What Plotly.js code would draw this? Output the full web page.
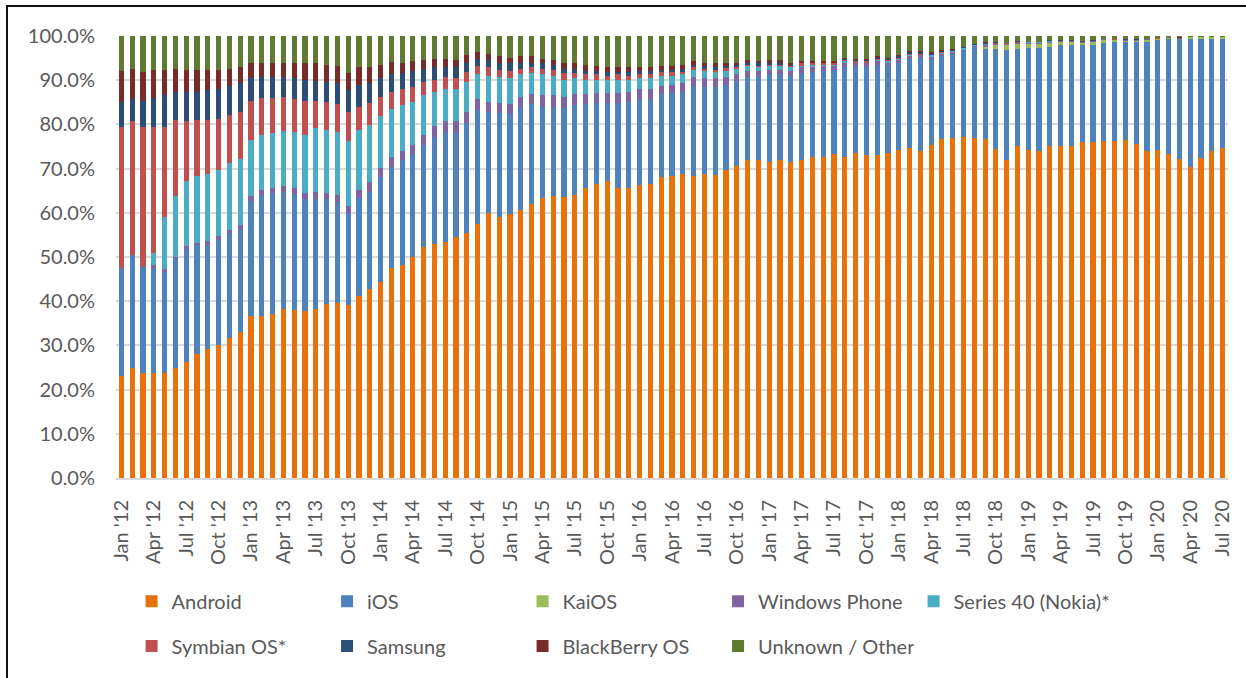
<!DOCTYPE html>
<html>
<head>
<meta charset="utf-8">
<script src="https://cdn.plot.ly/plotly-3.0.1.min.js"></script>
<style>
html,body{margin:0;padding:0;background:#fff;}
#wrap{position:relative;width:1246px;height:678px;overflow:hidden;}
#chart{position:absolute;left:0;top:0;width:1246px;height:678px;}
#frame{position:absolute;left:6px;top:5px;width:1400px;height:900px;border-top:2px solid #111;border-left:2px solid #111;pointer-events:none;}
</style>
</head>
<body>
<div id="wrap"><div id="chart"></div><div id="frame"></div></div>
<script>
const monthNames = ["Jan","Feb","Mar","Apr","May","Jun","Jul","Aug","Sep","Oct","Nov","Dec"];
const yearLabels = ["12","13","14","15","16","17","18","19","20"];
const lastYearMonths = 7;

const android = [
 23.1,24.8,23.7,23.7,23.7,25.0,26.3,28.1,29.2,30.0,31.7,33.1,
 36.6,36.6,37.2,38.3,38.1,37.8,38.3,39.4,39.7,39.2,41.1,42.8,
 44.4,47.5,48.3,50.0,52.2,53.0,53.3,54.6,55.4,57.5,59.9,59.1,
 59.7,60.7,61.9,63.3,63.8,63.5,64.1,65.5,66.6,67.1,65.7,65.7,
 66.3,66.4,68.0,68.3,68.8,68.3,68.8,68.5,69.6,70.7,71.9,71.9,
 71.6,71.9,71.6,71.9,72.7,72.7,73.2,72.7,73.5,73.0,73.0,73.5,
 74.3,74.6,74.0,75.4,76.6,76.9,77.2,76.9,76.6,74.6,72.1,75.1,
 74.3,74.0,75.1,75.1,75.1,76.0,76.0,76.3,76.3,76.6,75.7,74.0,
 74.3,73.2,72.1,70.4,72.4,74.0,74.6];
const ios = [
 24.3,25.6,23.9,23.8,22.8,24.5,25.6,24.6,23.5,23.8,23.7,23.2,
 26.1,27.4,27.2,26.3,25.9,25.3,24.8,23.7,22.8,20.7,22.2,21.8,
 23.6,23.0,23.6,23.2,23.2,24.1,24.9,23.5,25.0,25.7,23.0,23.5,
 22.6,23.1,22.7,20.7,20.2,20.3,20.2,19.1,18.3,17.8,19.2,19.4,
 19.4,19.3,18.8,18.8,18.6,20.5,19.7,20.0,19.4,19.2,18.8,18.8,
 19.7,19.4,19.4,19.7,19.1,19.4,19.2,20.2,19.4,19.9,20.5,20.0,
 19.7,20.3,21.1,19.5,18.8,19.1,19.3,20.7,20.5,22.5,24.8,22.0,
 23.1,23.4,22.5,22.9,22.9,22.0,22.0,22.2,22.4,22.3,23.0,24.7,
 24.8,26.1,27.2,28.9,26.9,25.3,24.7];
const kaios = [
 0,0,0,0,0,0,0,0,0,0,0,0,
 0,0,0,0,0,0,0,0,0,0,0,0,
 0,0,0,0,0,0,0,0,0,0,0,0,
 0,0,0,0,0,0,0,0,0,0,0,0,
 0,0,0,0,0,0,0,0,0,0,0,0,
 0,0,0,0,0,0,0,0,0,0,0,0,
 0,0,0,0,0,0,0,0,0.5,0.9,1.1,1.1,
 1.0,1.0,0.9,0.7,0.7,0.5,0.7,0.7,0.4,0.2,0.3,0.5,
 0.2,0.1,0.1,0.4,0.4,0.4,0.4];
const windowsPhone = [
 0,0,0.4,0.6,0.7,0.5,0.6,0.5,0.9,0.9,0.8,0.9,
 1.1,1.1,1.1,1.4,1.5,1.3,1.5,1.3,1.5,1.7,1.8,2.3,
 2.2,2.3,2.1,2.2,2.2,2.5,2.5,2.6,2.3,2.5,2.2,2.3,
 2.3,2.5,2.2,2.6,2.6,2.5,2.5,2.2,2.2,2.2,2.2,2.3,
 2.2,2.2,1.9,1.9,1.9,1.9,1.9,1.9,1.7,1.4,1.4,1.4,
 1.1,1.1,1.1,1.3,1.1,1.1,0.8,0.9,0.9,0.9,0.8,0.5,
 0.6,0.5,0.5,0.4,0.4,0.3,0.4,0.3,0.4,0.3,0.3,0.3,
 0.2,0.2,0.3,0.2,0.2,0.2,0.2,0.1,0.1,0.1,0.1,0.1,
 0.1,0.2,0.1,0,0,0,0];
const series40 = [
 0,0,0,2.7,11.8,13.8,14.7,15.1,15.2,14.9,15.1,14.9,
 12.7,12.6,12.5,12.6,12.7,13.3,14.5,14.4,14.2,14.7,13.6,13.0,
 11.6,10.7,10.3,9.7,9.0,7.8,7.4,7.2,6.9,5.6,5.9,5.8,
 5.8,5.0,4.8,4.7,4.4,3.8,3.6,3.3,3.0,3.0,3.0,2.7,
 2.5,2.5,2.3,2.0,2.0,1.7,1.7,1.4,1.4,1.3,1.1,0.8,
 0.8,0.8,0.8,0.3,0.6,0.3,0.3,0.5,0.2,0.2,0.3,0.3,
 0.3,0.3,0.2,0.3,0.2,0.2,0.3,0.1,0.1,0.1,0.1,0.1,
 0.05,0.05,0.1,0.05,0.05,0.05,0.05,0,0.05,0.05,0.05,0,
 0.05,0,0.05,0,0,0,0];
const symbian = [
 31.9,30.3,31.3,28.5,20.3,17.2,13.5,12.7,12.2,11.7,10.8,10.8,
 8.9,8.3,8.0,7.7,7.5,7.7,6.3,6.3,6.4,6.4,5.3,5.0,
 4.5,4.0,3.6,3.4,3.0,2.7,2.6,2.5,2.2,1.9,1.9,1.7,
 1.7,1.3,1.3,1.3,1.4,1.5,1.2,1.2,1.2,0.9,1.2,0.9,
 0.8,0.8,0.8,0.8,0.5,0.5,0.5,0.6,0.6,0.3,0.3,0.3,
 0.3,0.3,0.3,0.6,0.3,0.3,0.3,0.3,0.3,0.3,0.3,0.3,
 0.2,0.3,0.2,0.2,0.2,0.2,0.1,0.1,0.1,0.1,0.1,0.1,
 0.05,0.05,0.05,0.05,0.05,0.05,0.05,0.05,0.05,0.05,0.05,0.05,
 0.05,0,0,0,0,0,0];
const samsung = [
 5.8,5.0,6.1,6.7,7.3,6.4,6.7,6.4,6.7,6.6,6.7,6.4,
 5.0,4.7,4.7,4.4,4.7,4.7,4.5,4.5,4.7,5.0,5.0,4.4,
 4.1,3.9,3.7,3.6,3.0,2.9,2.4,2.5,2.2,1.7,1.7,1.6,
 1.7,1.4,1.1,1.2,1.1,1.0,1.0,0.8,0.8,0.8,0.5,0.8,
 0.8,0.8,0.6,0.6,0.8,0.6,0.6,0.5,0.5,0.6,0.5,0.6,
 0.5,0.5,0.3,0.2,0.2,0.2,0.2,0.3,0.3,0.3,0.2,0.2,
 0.3,0.3,0.3,0.2,0.3,0.2,0.1,0.1,0.3,0.2,0.1,0.2,
 0.05,0.05,0.1,0.1,0.1,0.1,0.1,0,0.05,0.1,0.1,0,
 0.1,0,0.1,0,0,0,0];
const blackberry = [
 6.9,6.9,6.4,6.2,5.6,5.2,5.0,4.8,4.7,4.5,3.8,3.6,
 3.4,3.3,3.3,3.3,3.4,3.7,3.9,3.9,3.9,3.9,3.9,3.6,
 3.1,2.7,2.4,2.2,2.0,1.9,1.8,1.7,1.7,1.4,1.4,1.4,
 1.3,1.4,1.4,1.1,1.1,1.2,1.2,1.4,1.1,1.1,1.1,1.1,
 0.8,0.8,0.8,0.8,0.9,0.8,0.8,0.9,0.6,0.5,0.6,0.5,
 0.6,0.6,0.3,0.3,0.3,0.3,0.3,0.2,0.3,0.3,0.3,0.3,
 0.3,0.3,0.3,0.3,0.3,0.2,0.1,0.1,0.2,0.1,0.05,0.1,
 0.05,0.05,0.1,0.05,0.05,0.05,0.05,0,0,0.05,0.05,0,
 0.05,0,0.05,0,0,0,0];
const unknownOther = [
 8.0,7.4,8.2,7.8,7.8,7.4,7.6,7.8,7.6,7.6,7.4,7.1,
 6.2,6.0,6.0,6.0,6.2,6.2,6.2,6.5,6.8,8.4,7.1,7.1,
 6.5,6.0,6.0,5.7,5.4,5.1,5.1,5.4,4.3,3.7,4.0,4.6,
 4.9,4.6,4.6,5.1,5.4,6.2,6.2,6.5,6.8,7.1,7.1,7.1,
 7.1,7.1,6.8,6.8,6.5,5.7,6.0,6.2,6.2,6.0,5.4,5.7,
 5.4,5.4,6.2,5.7,5.7,5.7,5.7,4.9,5.1,5.1,4.6,4.9,
 4.3,3.4,3.4,3.7,3.1,2.9,2.5,1.8,1.3,1.3,1.5,1.1,
 1.3,1.3,0.9,0.9,0.9,1.1,0.9,0.7,0.7,0.7,0.7,0.7,
 0.4,0.3,0.3,0.3,0.3,0.3,0.3];

const seriesNames = ["Android","iOS","KaiOS","Windows Phone","Series 40 (Nokia)*","Symbian OS*","Samsung","BlackBerry OS","Unknown / Other"];
const seriesValues = [android, ios, kaios, windowsPhone, series40, symbian, samsung, blackberry, unknownOther];
const seriesColors = ["#E8710A","#4F81BD","#9BBB59","#8064A2","#4BACC6","#C0504D","#2C4D75","#772C2A","#617A32"];
const seriesLegend = ["legend","legend","legend","legend","legend","legend2","legend2","legend2","legend2"];

const categories = [];
yearLabels.forEach((y, yi) => {
  const n = (yi === yearLabels.length - 1) ? lastYearMonths : 12;
  for (let m = 0; m < n; m++) categories.push(monthNames[m] + " '" + y);
});
const tickCats = categories.filter((c, i) => i % 3 === 0);

const textColor = "#595959";
const fontFam = "Lato, 'Liberation Sans', sans-serif";

const traces = seriesNames.map((name, i) => ({
  type: "bar",
  name: name,
  x: categories,
  y: seriesValues[i],
  marker: {color: seriesColors[i], line: {width: 0}},
  legend: seriesLegend[i],
  hoverinfo: "skip"
}));

const legendCommon = {
  orientation: "h",
  xanchor: "left",
  yanchor: "top",
  traceorder: "normal",
  font: {family: fontFam, size: 20, color: textColor},
  bgcolor: "rgba(0,0,0,0)",
  borderwidth: 0,
  itemwidth: 30,
  entrywidth: 150.5,
  entrywidthmode: "pixels",
  itemclick: false
};

const layout = {
  width: 1246,
  height: 678,
  paper_bgcolor: "#ffffff",
  plot_bgcolor: "#ffffff",
  margin: {l: 116, r: 18, t: 36, b: 195, pad: 0},
  barmode: "stack",
  barnorm: "percent",
  bargap: 0.52,
  font: {family: fontFam, size: 20, color: textColor},
  xaxis: {
    type: "category",
    tickmode: "array",
    tickvals: tickCats,
    ticktext: tickCats,
    tickangle: -90,
    ticks: "outside",
    ticklen: 12,
    tickcolor: "rgba(0,0,0,0)",
    showgrid: false,
    showline: true,
    linecolor: "#D9D9D9",
    linewidth: 2,
    tickfont: {family: fontFam, size: 20, color: textColor},
    fixedrange: true
  },
  yaxis: {
    range: [0, 100],
    tickmode: "linear",
    tick0: 0,
    dtick: 10,
    tickformat: ".1f",
    ticksuffix: "%",
    showgrid: true,
    gridcolor: "#D9D9D9",
    gridwidth: 2,
    zeroline: false,
    showline: false,
    ticks: "outside",
    ticklen: 16,
    tickcolor: "rgba(0,0,0,0)",
    tickfont: {family: fontFam, size: 20, color: textColor},
    fixedrange: true
  },
  legend: Object.assign({}, legendCommon, {x: 0.014, y: -0.235}),
  legend2: Object.assign({}, legendCommon, {x: 0.014, y: -0.336}),
  showlegend: true
};

Plotly.newPlot("chart", traces, layout, {staticPlot: true, displayModeBar: false});
</script>
</body>
</html>
